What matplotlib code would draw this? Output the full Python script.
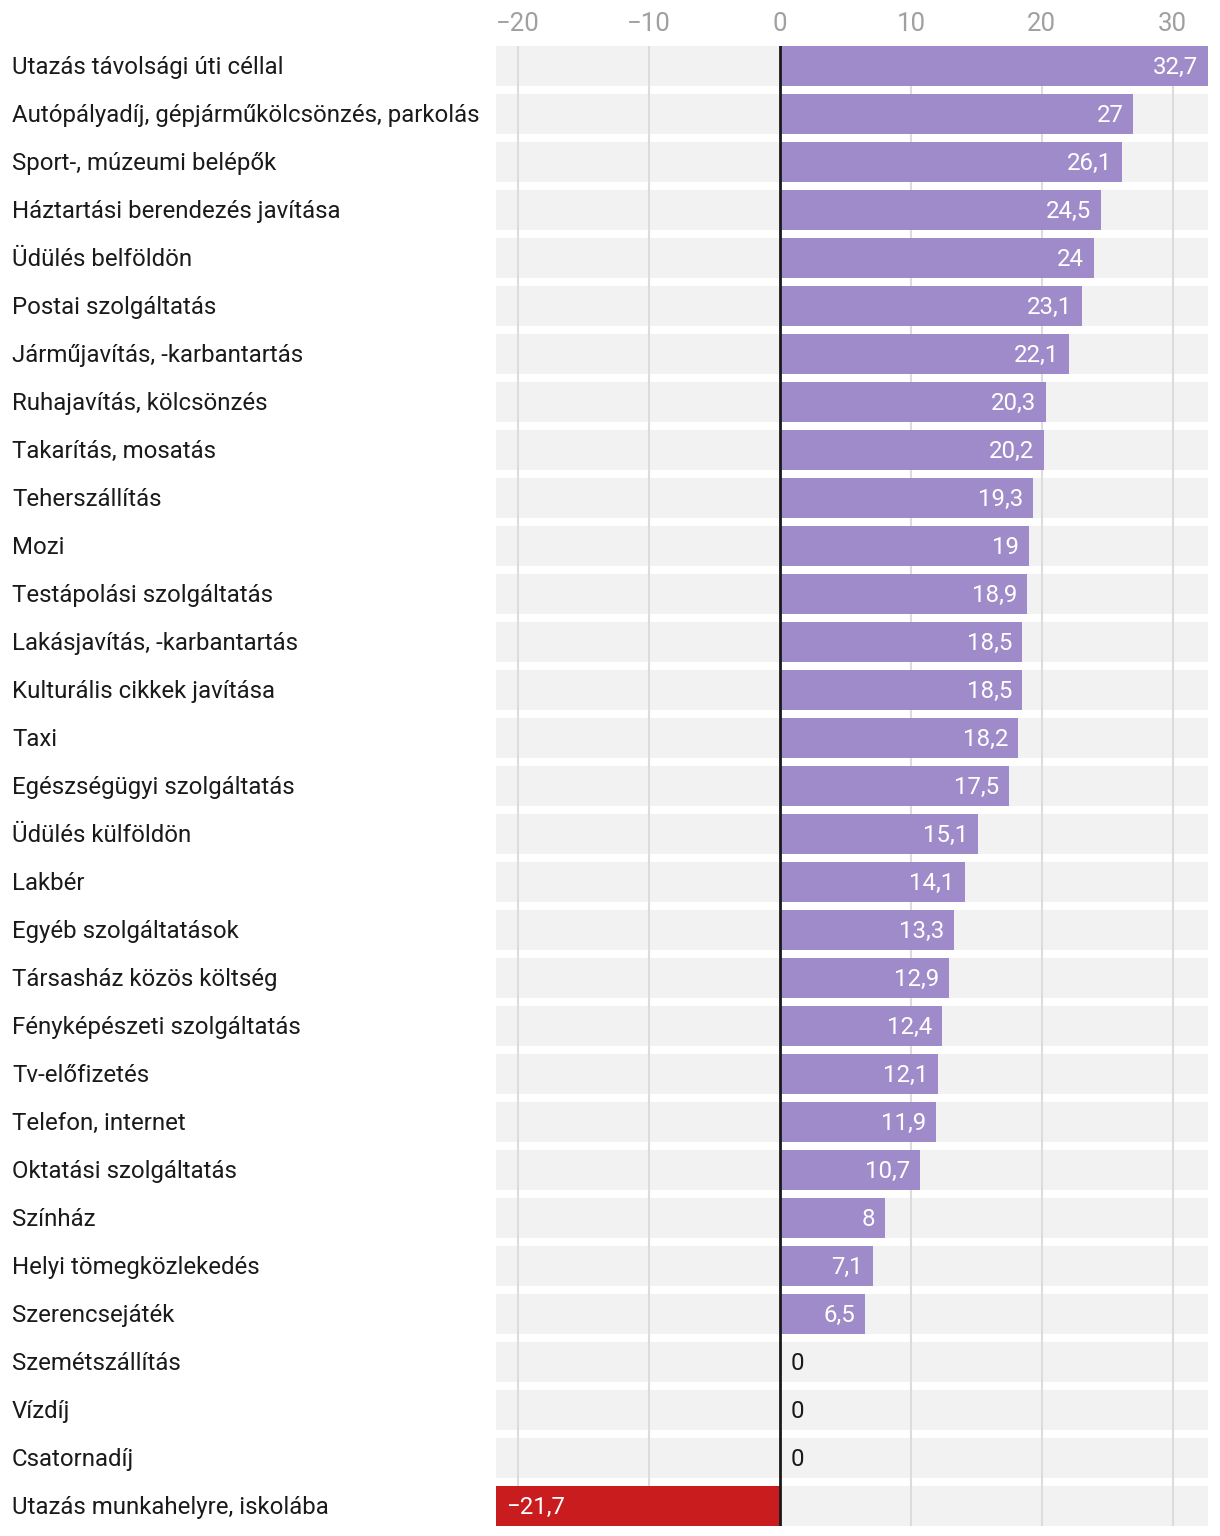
import numpy as np
import matplotlib.pyplot as plt

plt.rcParams['font.family'] = ['Roboto', 'DejaVu Sans']

# =========================================================
# Data
# =========================================================
categories = [
    "Utazás távolsági úti céllal",
    "Autópályadíj, gépjárműkölcsönzés, parkolás",
    "Sport-, múzeumi belépők",
    "Háztartási berendezés javítása",
    "Üdülés belföldön",
    "Postai szolgáltatás",
    "Járműjavítás, -karbantartás",
    "Ruhajavítás, kölcsönzés",
    "Takarítás, mosatás",
    "Teherszállítás",
    "Mozi",
    "Testápolási szolgáltatás",
    "Lakásjavítás, -karbantartás",
    "Kulturális cikkek javítása",
    "Taxi",
    "Egészségügyi szolgáltatás",
    "Üdülés külföldön",
    "Lakbér",
    "Egyéb szolgáltatások",
    "Társasház közös költség",
    "Fényképészeti szolgáltatás",
    "Tv-előfizetés",
    "Telefon, internet",
    "Oktatási szolgáltatás",
    "Színház",
    "Helyi tömegközlekedés",
    "Szerencsejáték",
    "Szemétszállítás",
    "Vízdíj",
    "Csatornadíj",
    "Utazás munkahelyre, iskolába",
]
values = [32.7, 27, 26.1, 24.5, 24, 23.1, 22.1, 20.3, 20.2, 19.3, 19, 18.9,
          18.5, 18.5, 18.2, 17.5, 15.1, 14.1, 13.3, 12.9, 12.4, 12.1, 11.9,
          10.7, 8, 7.1, 6.5, 0, 0, 0, -21.7]
xticks = [-20, -10, 0, 10, 20, 30]

# =========================================================
# Style
# =========================================================
c_pos = "#9f8bca"
c_neg = "#c81c1e"
c_band = "#f2f2f2"
c_grid = "#dcdcdc"
bar_h = 40 / 48
x_min, x_max = -21.7, 32.7
fs = 17.3
dy = 0.04   # small downward nudge for text centring

W, H = 1220, 1536
fig = plt.figure(figsize=(W / 100, H / 100), dpi=100)
ax = fig.add_axes([496 / W, 1 - 1526 / H, (1208 - 496) / W, (1526 - 46) / H])

y = np.arange(len(categories))

# background bands
ax.barh(y, x_max - x_min, left=x_min, height=bar_h, color=c_band, zorder=0)
for t in xticks:
    if t != 0:
        ax.axvline(t, color=c_grid, lw=1.5, zorder=1)

colors = [c_neg if v < 0 else c_pos for v in values]
ax.barh(y, values, height=bar_h, color=colors, zorder=2)
ax.axvline(0, color="#1a1a1a", lw=2, zorder=3)

def fmt(v):
    s = f"{v:g}".replace(".", ",")
    return s.replace("-", "\u2212")

for yi, v in zip(y, values):
    if v > 0:
        ax.text(v - 0.75, yi + dy, fmt(v), ha="right", va="center",
                color="white", fontsize=fs, zorder=4)
    elif v < 0:
        ax.text(v + 0.8, yi + dy, fmt(v), ha="left", va="center",
                color="white", fontsize=fs, zorder=4)
    else:
        ax.text(0.8, yi + dy, fmt(v), ha="left", va="center",
                color="#1a1a1a", fontsize=fs, zorder=4)

ax.set_xlim(x_min, x_max)
ax.set_ylim(len(categories) - 1 + bar_h / 2, -bar_h / 2)
ax.set_xticks(xticks)
ax.set_xticklabels([fmt(t) for t in xticks])
ax.xaxis.tick_top()
ax.tick_params(axis="x", length=0, pad=7, labelsize=18.5, labelcolor="#a0a0a0")
ax.set_yticks([])
for s in ax.spines.values():
    s.set_visible(False)

for yi, name in zip(y, categories):
    ax.annotate(name, xy=(0, yi + dy), xycoords=("figure fraction", "data"),
                xytext=(12, 0), textcoords="offset pixels",
                ha="left", va="center", fontsize=fs, color="#1a1a1a")

fig.savefig("out.png", dpi=100)
